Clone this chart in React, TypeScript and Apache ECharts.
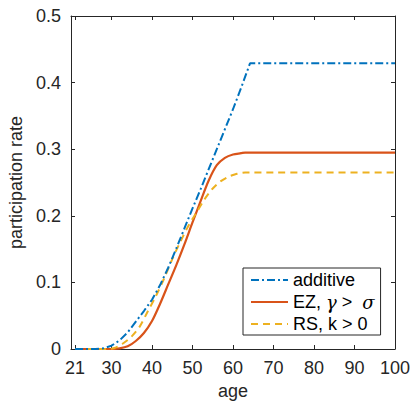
import React, { useEffect, useRef } from "react";
import * as echarts from "echarts";

const xTicks = [21, 30, 40, 50, 60, 70, 80, 90, 100];
const yTicks = [0, 0.1, 0.2, 0.3, 0.4, 0.5];

const additiveAges = [21, 26, 28, 30, 32, 34, 36, 38, 40, 42, 44, 46, 48, 50, 52, 54, 56, 58, 60, 62, 64.2, 100];
const additiveVals = [0, 0, 0.001, 0.005, 0.013, 0.025, 0.041, 0.057, 0.074, 0.096, 0.122, 0.151, 0.181, 0.211, 0.24, 0.27, 0.3, 0.33, 0.36, 0.392, 0.429, 0.429];

const ezAges = [21, 30, 32, 34, 36, 38, 40, 42, 44, 46, 48, 50, 52, 54, 56, 58, 60, 62, 63, 100];
const ezVals = [0, 0, 0.001, 0.004, 0.012, 0.024, 0.042, 0.068, 0.097, 0.126, 0.157, 0.19, 0.222, 0.253, 0.276, 0.287, 0.292, 0.294, 0.295, 0.295];

const rsAges = [21, 29, 31, 33, 35, 37, 39, 41, 43, 45, 47, 49, 51, 53, 55, 57, 59, 61, 63, 65, 100];
const rsVals = [0, 0, 0.002, 0.009, 0.019, 0.034, 0.057, 0.08, 0.106, 0.135, 0.161, 0.185, 0.205, 0.225, 0.241, 0.252, 0.259, 0.263, 0.265, 0.265, 0.265];

const zip = (a: number[], b: number[]) => a.map((x, i) => [x, b[i]]);

const AX = "#262626";
const FONT = "'Liberation Sans', Arial, Helvetica, sans-serif";

export default function App() {
  const ref = useRef<HTMLDivElement>(null);
  useEffect(() => {
    if (!ref.current) return;
    const chart = echarts.init(ref.current, null, { renderer: "svg" });
    const baseX = {
      type: "value",
      min: 20,
      max: 100,
      axisLine: { show: true, onZero: false, lineStyle: { color: AX, width: 1 } },
      axisTick: { show: true, inside: true, length: 4, customValues: xTicks, lineStyle: { color: AX } },
      splitLine: { show: false },
    };
    const baseY = {
      type: "value",
      min: 0,
      max: 0.5,
      interval: 0.1,
      axisLine: { show: true, onZero: false, lineStyle: { color: AX, width: 1 } },
      axisTick: { show: true, inside: true, length: 4, lineStyle: { color: AX } },
      splitLine: { show: false },
    };
    chart.setOption({
      animation: false,
      backgroundColor: "#fff",
      grid: { left: 71, right: 15, top: 16, bottom: 52, containLabel: false, outerBoundsMode: "none" },
      xAxis: [
        {
          ...baseX,
          position: "bottom",
          name: "age",
          nameLocation: "middle",
          nameGap: 33,
          nameTextStyle: { color: AX, fontSize: 18, fontFamily: FONT },
          axisLabel: { customValues: xTicks, color: AX, fontSize: 18, fontFamily: FONT, margin: 10 },
        },
        { ...baseX, position: "top", axisLabel: { show: false } },
      ],
      yAxis: [
        {
          ...baseY,
          position: "left",
          name: "participation rate",
          nameLocation: "middle",
          nameGap: 42,
          nameTextStyle: { color: AX, fontSize: 18, fontFamily: FONT },
          axisLabel: {
            color: AX,
            fontSize: 18,
            fontFamily: FONT,
            margin: 10,
            formatter: (v: number) => (v === 0 ? "0" : v.toFixed(1)),
          },
        },
        { ...baseY, position: "right", axisLabel: { show: false } },
      ],
      legend: {
        orient: "vertical",
        left: 243,
        top: 268,
        padding: [3, 6, 2, 7],
        itemWidth: 37,
        itemHeight: 18,
        itemGap: 4,
        backgroundColor: "#fff",
        borderColor: AX,
        borderWidth: 1,
        borderRadius: 0,
        itemStyle: { opacity: 0 },
        textStyle: {
          color: "#000",
          fontSize: 18,
          fontFamily: FONT,
          lineHeight: 18,
          rich: {
            n: { fontSize: 18, fontFamily: FONT, color: "#000" },
            g: { fontSize: 18, fontFamily: "'DejaVu Serif', 'Liberation Serif', serif", fontStyle: "italic", color: "#000" },
          },
        },
        formatter: (name: string) => {
          if (name === "EZ") return "{n|EZ, }{g|γ}{n| >  }{g|σ}";
          return "{n|" + name + "}";
        },
        data: ["additive", "EZ", "RS, k > 0"],
      },
      series: [
        {
          name: "additive",
          type: "line",
          data: zip(additiveAges, additiveVals),
          showSymbol: false,
          symbol: "none",
          lineStyle: { color: "#0072BD", width: 2, type: [8, 3, 2, 3] },
          itemStyle: { color: "#0072BD" },
          z: 3,
        },
        {
          name: "EZ",
          type: "line",
          data: zip(ezAges, ezVals),
          showSymbol: false,
          symbol: "none",
          smooth: 0.3,
          lineStyle: { color: "#D95319", width: 2.2, type: "solid" },
          itemStyle: { color: "#D95319" },
          z: 2,
        },
        {
          name: "RS, k > 0",
          type: "line",
          data: zip(rsAges, rsVals),
          showSymbol: false,
          symbol: "none",
          smooth: 0.3,
          lineStyle: { color: "#EDB120", width: 2, type: [7, 5] },
          itemStyle: { color: "#EDB120" },
          z: 2,
        },
      ],
    });
    return () => chart.dispose();
  }, []);
  return <div ref={ref} style={{ width: 410, height: 401, position: "absolute", left: 0, top: 0 }} />;
}
